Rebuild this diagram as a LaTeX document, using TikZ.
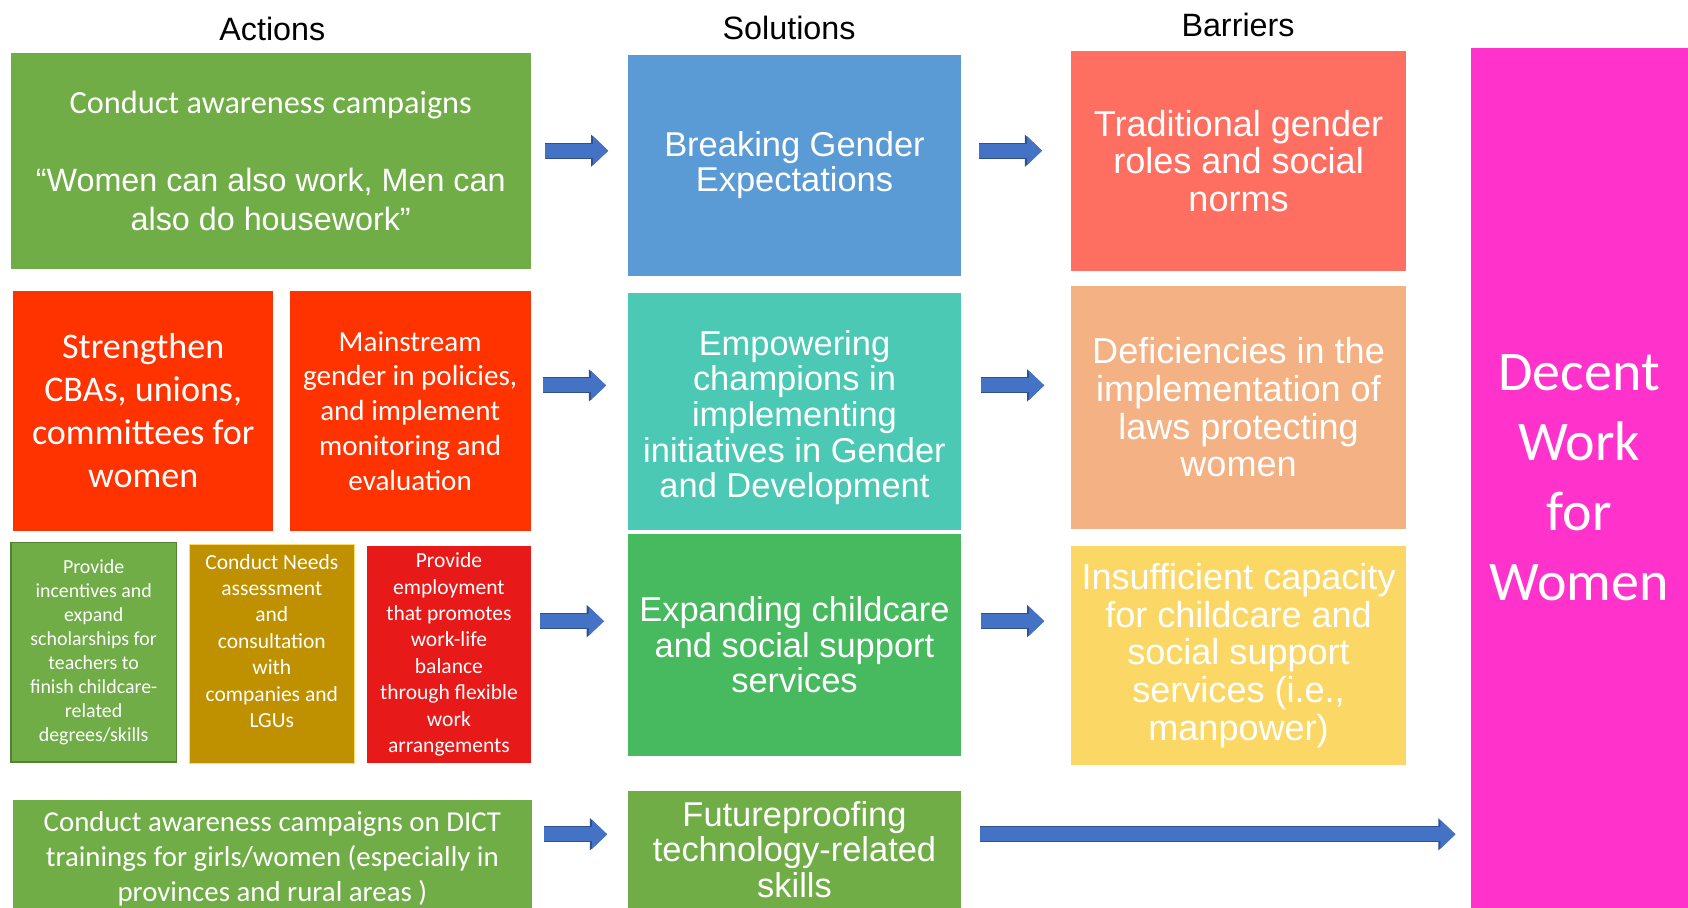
\documentclass[tikz,border=0pt]{standalone}
\usepackage{fontspec}
\setmainfont{Liberation Sans}
\newfontfamily\calib{Carlito}
\usetikzlibrary{arrows.meta}
\definecolor{actgreen}{HTML}{70AD47}
\definecolor{actgreendark}{HTML}{548235}
\definecolor{solblue}{HTML}{5B9BD5}
\definecolor{barsalmon}{HTML}{FF6F61}
\definecolor{decent}{HTML}{FF33CC}
\definecolor{actorange}{HTML}{FF3300}
\definecolor{solteal}{HTML}{4CC9B4}
\definecolor{barpeach}{HTML}{F4B183}
\definecolor{actgold}{HTML}{BF9000}
\definecolor{actgoldedge}{HTML}{FFD966}
\definecolor{actred}{HTML}{E81919}
\definecolor{solgreen}{HTML}{47BA5F}
\definecolor{baryellow}{HTML}{FBD866}
\definecolor{arrowfill}{HTML}{4472C4}
\definecolor{arrowedge}{HTML}{2F528F}
\begin{document}
\begin{tikzpicture}[x=1pt,y=-1pt,
  box/.style={rectangle, inner sep=0pt, outer sep=0pt, anchor=north west, align=center, text=white},
  header/.style={inner sep=0pt, text=black, font=\fontsize{30}{30}\selectfont},
  solfont/.style={font=\fontsize{32}{33}\selectfont},
  barfont/.style={font=\fontsize{33.5}{35}\selectfont},
  conn/.style={line width=13pt, draw=arrowfill, -{Triangle[length=14pt,width=26pt]},
    preaction={draw=arrowedge, line width=15pt, -{Triangle[length=16pt,width=29pt]}}}
]
\useasboundingbox (0,0) rectangle (1568,843);
\fill[white] (0,0) rectangle (1568,843);

% headers
\node[header] (hA) at (253,27) {Actions};
\node[header] (hS) at (733,26) {Solutions};
\node[header] (hB) at (1150,23) {Barriers};

% row 1
\node[box, fill=actgreen, minimum width=483pt, minimum height=201pt, font=\fontsize{30}{36}\selectfont] (a1) at (10,49)
  {{\calib Conduct awareness campaigns}\\[36pt]“Women can also work, Men can\\also do housework”};
\node[box, fill=solblue, minimum width=310pt, minimum height=205pt, solfont] (s1) at (583,51)
  {Breaking Gender\\Expectations};
\node[box, fill=barsalmon, minimum width=311pt, minimum height=205pt, barfont] (b1) at (995,47)
  {Traditional gender\\roles and social\\norms};
\node[box, fill=decent, minimum width=202pt, minimum height=798pt, font=\calib\fontsize{52}{65}\selectfont] (dw) at (1366,45)
  {Decent\\Work\\for\\Women};

% row 2
\node[box, fill=actorange, minimum width=242pt, minimum height=223pt, font=\calib\fontsize{33.5}{40}\selectfont] (a2a) at (12,270)
  {Strengthen\\CBAs, unions,\\committees for\\women};
\node[box, fill=actorange, minimum width=224pt, minimum height=223pt, font=\calib\fontsize{27}{32.3}\selectfont] (a2b) at (269,270)
  {Mainstream\\gender in policies,\\and implement\\monitoring and\\evaluation};
\node[box, fill=solteal, minimum width=310pt, minimum height=220pt, solfont] (s2) at (583,272)
  {\mbox{}\\[2pt]Empowering\\champions in\\implementing\\initiatives in Gender\\and Development};
\node[box, fill=barpeach, minimum width=311pt, minimum height=225pt, barfont] (b2) at (995,266)
  {Deficiencies in the\\implementation of\\laws protecting\\women};

% row 3
\node[box, fill=actgreen, draw=actgreendark, line width=1.5pt, minimum width=154pt, minimum height=204pt, font=\calib\fontsize{18.5}{22.4}\selectfont] (a3a) at (10,504)
  {Provide\\incentives and\\expand\\scholarships for\\teachers to\\finish childcare-\\related\\degrees/skills};
\node[box, fill=actgold, draw=actgoldedge, line width=0.8pt, minimum width=153pt, minimum height=203pt, font=\calib\fontsize{20}{24.5}\selectfont] (a3b) at (176,506)
  {Conduct Needs\\assessment\\and\\consultation\\with\\companies and\\LGUs\\\mbox{}};
\node[box, fill=actred, minimum width=152pt, minimum height=202pt, font=\calib\fontsize{20}{24.5}\selectfont] (a3c) at (341,507)
  {Provide\\employment\\that promotes\\work-life\\balance\\through flexible\\work\\arrangements};
\node[box, fill=solgreen, minimum width=310pt, minimum height=206pt, solfont] (s3) at (583,496)
  {Expanding childcare\\and social support\\services};
\node[box, fill=baryellow, minimum width=311pt, minimum height=204pt, barfont] (b3) at (995,507)
  {Insufficient capacity\\for childcare and\\social support\\services (i.e.,\\manpower)};

% row 4
\node[box, fill=actgreen, minimum width=482pt, minimum height=100pt, font=\calib\fontsize{26.8}{32.5}\selectfont] (a4) at (12,743)
  {\mbox{}\\[-4pt]Conduct awareness campaigns on DICT\\trainings for girls/women (especially in\\provinces and rural areas )};
\node[box, fill=actgreen, minimum width=310pt, minimum height=108pt, solfont] (s4) at (583,735)
  {Futureproofing\\technology-related\\skills};

% arrow rows
\coordinate (r1) at (0,140);
\coordinate (r2) at (0,358);
\coordinate (r3) at (0,577);
\coordinate (r4) at (0,775);

\draw[conn, shorten <=13pt, shorten >=18pt] (a1.east |- r1) -- (s1.west |- r1);
\draw[conn, shorten <=16pt, shorten >=27pt] (s1.east |- r1) -- (b1.west |- r1);
\draw[conn, shorten <=11pt, shorten >=20pt] (a2b.east |- r2) -- (s2.west |- r2);
\draw[conn, shorten <=18pt, shorten >=25pt] (s2.east |- r2) -- (b2.west |- r2);
\draw[conn, shorten <=9pt, shorten >=22pt] (a3c.east |- r3) -- (s3.west |- r3);
\draw[conn, shorten <=18pt, shorten >=25pt] (s3.east |- r3) -- (b3.west |- r3);
\draw[conn, shorten <=11pt, shorten >=19pt] (a4.east |- r4) -- (s4.west |- r4);
\draw[conn, shorten <=17pt, shorten >=14pt] (s4.east |- r4) -- (dw.west |- r4);
\end{tikzpicture}
\end{document}
